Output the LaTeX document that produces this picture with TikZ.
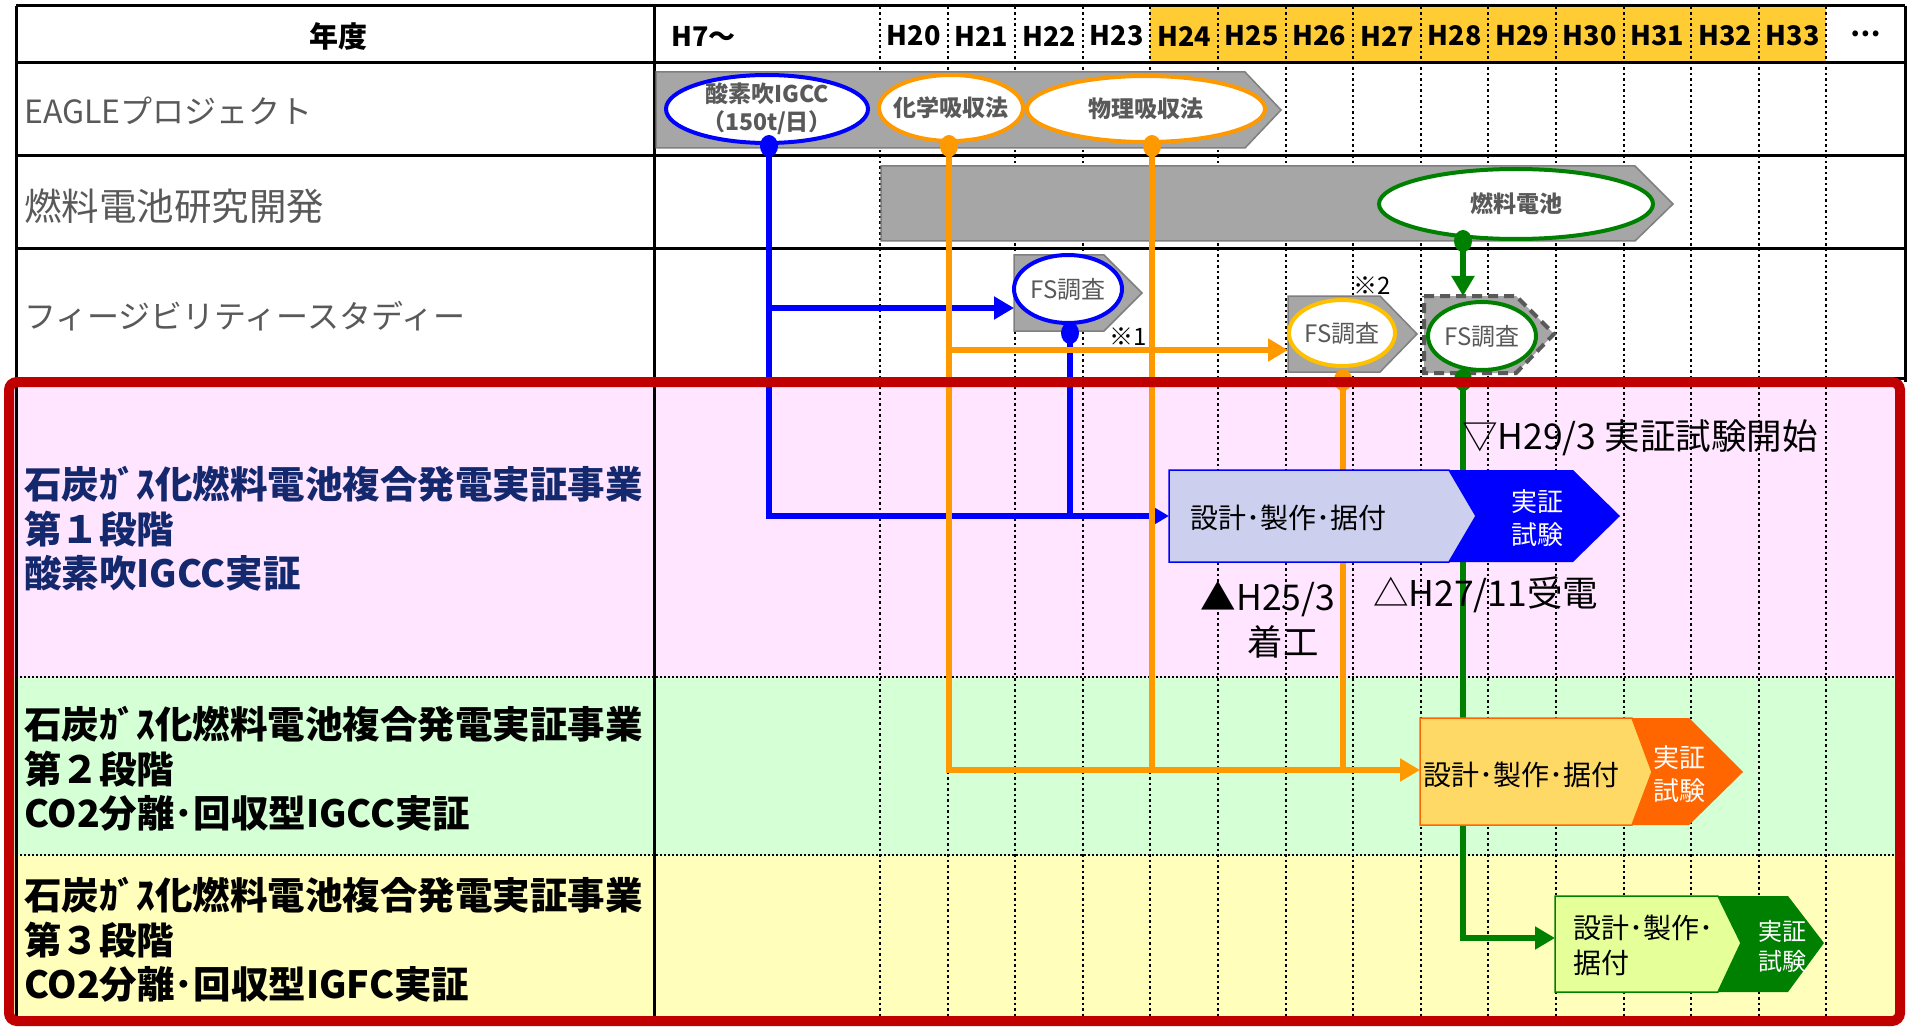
\documentclass[tikz,border=0pt]{standalone}
\usepackage{fontspec}
\setmainfont{Noto Sans CJK JP}
\usetikzlibrary{arrows.meta,shapes.geometric}
\definecolor{cblue}{HTML}{0000FF}
\definecolor{corange}{HTML}{FF9900}
\definecolor{cgold}{HTML}{FFC000}
\definecolor{cgreen}{HTML}{008000}
\definecolor{cred}{HTML}{C00000}
\definecolor{pinkbg}{HTML}{FFE5FF}
\definecolor{greenbg}{HTML}{D5FFD5}
\definecolor{yellowbg}{HTML}{FFFFBB}
\definecolor{hdryel}{HTML}{FFCC33}
\definecolor{barfill}{HTML}{A6A6A6}
\definecolor{barline}{HTML}{7F7F7F}
\definecolor{dashgray}{HTML}{595959}
\definecolor{txtgray}{HTML}{595959}
\definecolor{navy}{HTML}{14286E}
\definecolor{lav}{HTML}{CCD0EE}
\definecolor{orlight}{HTML}{FFD966}
\definecolor{ordark}{HTML}{FF6600}
\definecolor{grlight}{HTML}{E5FF99}
\pgfdeclarelayer{grid}
\pgfdeclarelayer{conn}
\pgfsetlayers{grid,conn,main}
\begin{document}
\begin{tikzpicture}[x=1pt,y=-1pt,
  tline/.style={line width=3pt,black},
  dotv/.style={line width=2pt,black,dash pattern=on 2.5pt off 3pt},
  doth/.style={line width=2pt,black,dash pattern=on 2pt off 2pt},
  graybar/.style={fill=barfill,draw=barline,line width=1.5pt},
  ell/.style={ellipse,fill=white,line width=4pt,inner sep=0pt},
  elltxt/.style={font=\fontsize{23}{28}\selectfont\bfseries,text=txtgray,align=center,inner sep=0pt},
  fstxt/.style={font=\fontsize{24}{28}\selectfont,text=txtgray,inner sep=0pt},
  jdot/.style={ellipse,inner sep=0pt,minimum width=18pt,minimum height=22pt,draw=none},
  cbl/.style={draw=cblue,line width=6pt},
  cor/.style={draw=corange,line width=6pt},
  cgr/.style={draw=cgreen,line width=6pt},
  arr/.style={-{Triangle[length=20pt,width=22pt]}},
  yr/.style={font=\fontsize{27}{30}\selectfont\bfseries,inner sep=0pt},
  rowlab/.style={text=txtgray,inner sep=0pt,anchor=west},
  stlab/.style={font=\fontsize{37.5}{44.5}\selectfont\bfseries,align=left,inner sep=0pt,anchor=west},
  boxtxt/.style={font=\fontsize{28}{35}\selectfont,inner sep=0pt,anchor=west,align=left},
  vtxt/.style={font=\fontsize{26}{33}\selectfont,text=white,inner sep=0pt,align=center},
  anno/.style={font=\fontsize{35.5}{45}\selectfont,inner sep=0pt},
  note/.style={font=\fontsize{24}{28}\selectfont,inner sep=0pt}
]
\useasboundingbox (0,0) rectangle (1907,1027);

% ---------- grid layer ----------
\begin{pgfonlayer}{grid}
\fill[white] (0,0) rectangle (1907,1027);
\fill[pinkbg] (9,382) rectangle (1900,677);
\fill[greenbg] (9,677) rectangle (1900,855);
\fill[yellowbg] (9,855) rectangle (1900,1021);
\fill[hdryel] (1150.4,7) rectangle (1826,62);
\foreach \k in {0,...,14} \draw[dotv] ({880+67.6*\k},7) -- ({880+67.6*\k},1021);
\draw[doth] (16,677) -- (1900,677);
\draw[doth] (16,855) -- (1900,855);
\draw[tline] (16,6) -- (1905,6);
\foreach \yy in {63,156,249,378} \draw[tline] (16,\yy) -- (1905,\yy);
\draw[tline] (16,6) -- (16,1021);
\draw[tline] (654,6) -- (654,1021);
\draw[tline] (1905,6) -- (1905,382);
% gray bars
\draw[graybar] (656,72) -- (1245,72) -- (1281,110) -- (1245,148) -- (656,148) -- cycle;
\draw[graybar] (881,166) -- (1635,166) -- (1673,204) -- (1635,241) -- (881,241) -- cycle;
\draw[graybar] (1014,255) -- (1104,255) -- (1142,293) -- (1104,331) -- (1014,331) -- cycle;
\draw[graybar] (1288,296) -- (1380,296) -- (1417,334) -- (1380,372) -- (1288,372) -- cycle;
\draw[fill=barfill,draw=dashgray,line width=4pt,dash pattern=on 10pt off 6pt] (1424,296) -- (1516,296) -- (1554,334) -- (1516,373) -- (1424,373) -- cycle;
\end{pgfonlayer}

% ---------- header ----------
\node[yr,font=\fontsize{29}{32}\selectfont\bfseries] (hyear) at (338,36) {年度};
\node[yr,anchor=west] (h7) at (671,36) {H7～};
\foreach \n [count=\i from 0] in {20,...,33}
  \node[yr] (yr\n) at ({880+67.6*(\i+0.5)},36) {H\n};
\node[yr] (ydots) at (1866,34) {…};

% ---------- row labels ----------
\node[rowlab,font=\fontsize{32}{36}\selectfont] (lEag) at (24,111) {EAGLEプロジェクト};
\node[rowlab,font=\fontsize{37.5}{40}\selectfont] (lFC) at (24,206) {燃料電池研究開発};
\node[rowlab,font=\fontsize{32}{36}\selectfont] (lFS) at (24,316) {フィージビリティースタディー};

% ---------- anchors for connectors ----------
\coordinate (fs1in) at (1014,308);
\coordinate (fs2in) at (1288,350);
\coordinate (fs3top) at (1463,296);
\coordinate (s1in) at (1169,516);
\coordinate (s2in) at (1420,770);
\coordinate (s3in) at (1555,938);

% ---------- ellipses ----------
\node[ell,draw=cblue,minimum width=202pt,minimum height=68pt] (eOx) at (767,109) {};
\node[elltxt] (tOx) at (767,109) {酸素吹IGCC\\（150t/日）};
\node[ell,draw=corange,minimum width=144pt,minimum height=66pt] (eChem) at (951,108) {};
\node[elltxt] (tChem) at (eChem) {化学吸収法};
\node[ell,draw=corange,minimum width=238pt,minimum height=66pt] (ePhys) at (1146,109) {};
\node[elltxt] (tPhys) at (ePhys) {物理吸収法};
\node[ell,draw=cgreen,minimum width=274pt,minimum height=70pt] (eFC) at (1516,204) {};
\node[elltxt] (tFC) at (eFC) {燃料電池};
\node[ell,draw=cblue,minimum width=108pt,minimum height=68pt] (eFS1) at (1068,289) {};
\node[fstxt] (tFS1) at (eFS1) {FS調査};
\node[ell,draw=cgold,minimum width=106pt,minimum height=66pt] (eFS2) at (1342,333) {};
\node[fstxt] (tFS2) at (eFS2) {FS調査};
\node[ell,draw=cgreen,minimum width=108pt,minimum height=68pt] (eFS3) at (1482,336) {};
\node[fstxt] (tFS3) at (eFS3) {FS調査};

% ---------- dots ----------
\node[jdot,fill=cblue] (dOx) at (769,146) {};
\node[jdot,fill=corange] (dChem) at (949,146) {};
\node[jdot,fill=corange] (dPhys) at (1152,146) {};
\node[jdot,fill=cgreen] (dFC) at (1463,241) {};
\node[jdot,fill=cblue] (dFS1) at (1070,333) {};
\node[jdot,fill=corange] (dFS2) at (1343,380) {};
\node[jdot,fill=cgreen] (dFS3) at (1463,380) {};

% ---------- connectors ----------
\begin{pgfonlayer}{conn}
\draw[cbl,arr] (dOx.center) |- (s1in);
\draw[cbl,arr] (dOx.center |- fs1in) -- (fs1in);
\draw[cbl] (dFS1.center) -- (dFS1.center |- s1in);
\draw[cor,arr] (dChem.center) |- (s2in);
\draw[cor,arr] (dChem.center |- fs2in) -- (fs2in);
\draw[cor] (dPhys.center) -- (dPhys.center |- s2in);
\draw[cor] (dFS2.center) -- (dFS2.center |- s2in);
\draw[cgr,arr] (dFC.center) -- (fs3top);
\draw[cgr,arr] (dFS3.center) |- (s3in);
\end{pgfonlayer}

% ---------- stage boxes ----------
\draw[fill=lav,draw=cblue,line width=1.5pt] (1169,470) -- (1449,470) -- (1476,516) -- (1449,562) -- (1169,562) -- cycle;
\fill[cblue] (1449,470) -- (1573,470) -- (1620,516) -- (1573,562) -- (1449,562) -- (1476,516) -- cycle;
\node[boxtxt] (b1t) at (1190,518) {設計･製作･据付};
\node[vtxt] (b1v) at (1537,518) {実証\\試験};

\draw[fill=orlight,draw=ordark,line width=1.5pt] (1420,718) -- (1632,718) -- (1652,772) -- (1632,825) -- (1420,825) -- cycle;
\fill[ordark] (1632,718) -- (1689,718) -- (1743,772) -- (1689,825) -- (1632,825) -- (1652,772) -- cycle;
\node[boxtxt] (b2t) at (1423,775) {設計･製作･据付};
\node[vtxt] (b2v) at (1679,774) {実証\\試験};

\draw[fill=grlight,draw=cgreen,line width=1.5pt] (1555,896) -- (1718,896) -- (1741,943) -- (1718,992) -- (1555,992) -- cycle;
\fill[cgreen] (1718,896) -- (1788,896) -- (1824,943) -- (1788,992) -- (1718,992) -- (1741,943) -- cycle;
\node[boxtxt] (b3t) at (1573,945) {設計･製作･\\据付};
\node[vtxt,font=\fontsize{24}{30}\selectfont] (b3v) at (1782,946) {実証\\試験};

% ---------- stage labels ----------
\node[stlab,text=navy] (st1) at (24,529) {石炭ｶﾞｽ化燃料電池複合発電実証事業\\第１段階\\酸素吹IGCC実証};
\node[stlab] (st2) at (24,769) {石炭ｶﾞｽ化燃料電池複合発電実証事業\\第２段階\\CO2分離･回収型IGCC実証};
\node[stlab] (st3) at (24,940) {石炭ｶﾞｽ化燃料電池複合発電実証事業\\第３段階\\CO2分離･回収型IGFC実証};

% ---------- annotations ----------
\node[anno,anchor=west] (aH29) at (1462,438) {▽H29/3 実証試験開始};
\node[anno,align=center] (aH25) at (1268,620) {▲H25/3\\\hspace*{30pt}着工};
\node[anno,anchor=west] (aH27) at (1373,595) {△H27/11受電};
\node[note] (n1) at (1128,337) {※1};
\node[note] (n2) at (1372,286) {※2};

% ---------- red frame ----------
\draw[cred,line width=10pt,rounded corners=8pt] (9,382) rectangle (1900,1021);
\end{tikzpicture}
\end{document}
